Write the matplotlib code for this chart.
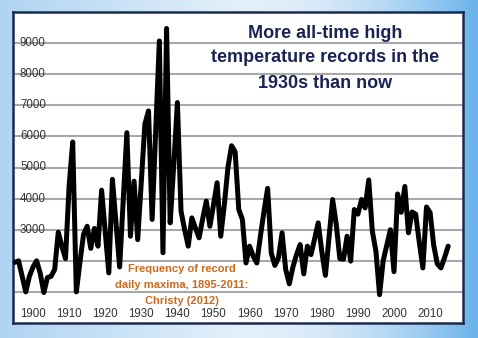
import numpy as np
import matplotlib
matplotlib.use("Agg")
import matplotlib.pyplot as plt

years = list(range(1895, 2016))
records = [
    1950, 2000, 1500, 1000, 1500, 1800, 2000, 1600, 980, 1460,   # 1895-1904
    1500, 1720, 2920, 2470, 2070, 4400, 5820, 1000, 1950, 2850,   # 1905-1914
    3110, 2400, 3040, 2470, 4270, 2940, 1610, 4620, 3200, 1800,   # 1915-1924
    3960, 6120, 2790, 4560, 2680, 4540, 6400, 6820, 3330, 6200,   # 1925-1934
    9070, 2260, 9470, 3220, 5100, 7090, 3600, 3000, 2470, 3380,   # 1935-1944
    3050, 2740, 3350, 3920, 3110, 3800, 4510, 2790, 3800, 5000,   # 1945-1954
    5700, 5500, 3650, 3330, 1930, 2470, 2150, 1930, 2800, 3600,   # 1955-1964
    4330, 2250, 1850, 2100, 2900, 1720, 1260, 1800, 2200, 2520,   # 1965-1974
    1580, 2470, 2200, 2700, 3220, 2300, 1530, 2750, 3970, 3170,   # 1975-1984
    2070, 2050, 2790, 1990, 3650, 3500, 3970, 3700, 4600, 2950,   # 1985-1994
    2300, 910, 2000, 2500, 3000, 1650, 4150, 3560, 4390, 2900,    # 1995-2004
    3570, 3500, 2600, 1770, 3730, 3550, 2500, 1900, 1770, 2100,   # 2005-2014
    2470,                                                          # 2015
]
y_tick_values = [3000, 4000, 5000, 6000, 7000, 8000, 9000]
grid_values = [1000, 2000, 3000, 4000, 5000, 6000, 7000, 8000, 9000]
x_tick_values = [1900, 1910, 1920, 1930, 1940, 1950, 1960, 1970, 1980, 1990, 2000, 2010]
title_lines = ["More all-time high", "temperature records in the", "1930s than now"]
note_lines = ["Frequency of record", "daily maxima, 1895-2011:", "Christy (2012)"]

W, H = 478, 338
fig = plt.figure(figsize=(W / 100, H / 100), dpi=100)

# background gradient
bg = fig.add_axes([0, 0, 1, 1])
bg.set_axis_off()
xs = np.linspace(0, 1, 200)
ys = np.linspace(0, 1, 140)
X, Y = np.meshgrid(xs, ys)
left_c = np.array([175, 212, 242]) / 255
mid_c = np.array([228, 240, 250]) / 255
right_c = np.array([105, 178, 235]) / 255
t = X
img = np.zeros(X.shape + (3,))
for k in range(3):
    a = np.where(t < 0.5, left_c[k] + (mid_c[k] - left_c[k]) * (t / 0.5),
                 mid_c[k] + (right_c[k] - mid_c[k]) * ((t - 0.5) / 0.5) ** 2)
    img[..., k] = a
bg.imshow(img, extent=[0, 1, 0, 1], aspect="auto", origin="upper")

x0, x1 = 13, 463
y0, y1 = 12, 323
ax = fig.add_axes([x0 / W, 1 - y1 / H, (x1 - x0) / W, (y1 - y0) / H])
ax.set_facecolor("white")

px_per_year = 3.61
xl = 1900 + (x0 - 33) / px_per_year
xr = 1900 + (x1 - 33) / px_per_year
ax.set_xlim(xl, xr)
ax.set_ylim(0, 10000)

for g in grid_values:
    ax.axhline(g, color="#a8a8a8", lw=1.5, zorder=1)

ax.plot(years, records, color="black", lw=3.6, solid_joinstyle="round",
        solid_capstyle="round", zorder=3)

ax.set_xticks([])
ax.set_yticks([])
for s in ax.spines.values():
    s.set_color("#1d2b4f")
    s.set_linewidth(1.8)

fnt = "Liberation Sans"
for v in y_tick_values:
    ax.text(xl + (20 - x0) / px_per_year, v, f"{v}", fontsize=8.3, family=fnt,
            color="#333333", ha="left", va="center", zorder=2)
for v in x_tick_values:
    ax.text(v, 290, f"{v}", fontsize=8.3, family=fnt, color="#333333",
            ha="center", va="center", zorder=2)

for i, line in enumerate(title_lines):
    fig.text(325 / W, 1 - (33 + 25 * i) / H, line, fontsize=13, family=fnt,
             weight="bold", color="#1b2356", ha="center", va="center")

for i, line in enumerate(note_lines):
    fig.text(182 / W, 1 - (269 + 16 * i) / H, line, fontsize=8, family=fnt,
             weight="bold", color="#cc6a1e", ha="center", va="center")

fig.savefig("out.png", dpi=100)
